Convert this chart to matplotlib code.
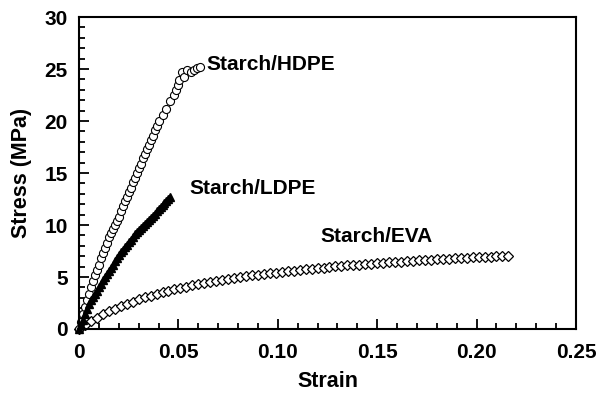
import matplotlib.pyplot as plt
from matplotlib.ticker import MultipleLocator

plt.rcParams['font.family'] = ['Liberation Sans', 'DejaVu Sans']

# Starch/HDPE (open circles)
hdpe_strain = [0, 0.001, 0.002, 0.003, 0.004, 0.005, 0.006, 0.007, 0.008, 0.009,
               0.010, 0.011, 0.012, 0.013, 0.014, 0.015, 0.016, 0.017, 0.018, 0.019,
               0.020, 0.021, 0.022, 0.023, 0.024, 0.025, 0.026, 0.027, 0.028, 0.029,
               0.030, 0.031, 0.032, 0.033, 0.034, 0.035, 0.036, 0.037, 0.038, 0.039,
               0.040, 0.042, 0.044, 0.046, 0.048, 0.049, 0.050, 0.0505, 0.052, 0.053,
               0.0545, 0.0565, 0.058, 0.0595, 0.061]
hdpe_stress = [0, 0.7, 1.4, 2.1, 2.8, 3.4, 4.0, 4.6, 5.2, 5.7,
               6.2, 6.8, 7.3, 7.8, 8.3, 8.8, 9.2, 9.6, 10.0, 10.4,
               10.8, 11.3, 11.8, 12.3, 12.7, 13.2, 13.6, 14.1, 14.55, 15.0,
               15.5, 15.9, 16.4, 16.8, 17.3, 17.7, 18.2, 18.6, 19.1, 19.5,
               20.0, 20.6, 21.2, 21.9, 22.5, 23.0, 23.5, 23.9, 24.7, 24.2,
               24.9, 24.7, 24.9, 25.1, 25.2]

# Starch/LDPE (filled triangles)
ldpe_strain = [0, 0.001, 0.002, 0.003, 0.004, 0.005, 0.006, 0.007, 0.008, 0.009,
               0.010, 0.011, 0.012, 0.013, 0.014, 0.015, 0.016, 0.017, 0.018, 0.019,
               0.020, 0.021, 0.022, 0.023, 0.024, 0.025, 0.026, 0.027, 0.028, 0.029,
               0.030, 0.031, 0.032, 0.033, 0.034, 0.035, 0.036, 0.037, 0.038, 0.039,
               0.040, 0.041, 0.042, 0.043, 0.044, 0.045, 0.046]
ldpe_stress = [0, 0.4, 0.9, 1.4, 1.9, 2.4, 2.8, 3.1, 3.4, 3.7,
               4.0, 4.3, 4.7, 5.0, 5.3, 5.6, 5.9, 6.2, 6.5, 6.8,
               7.1, 7.4, 7.6, 7.9, 8.1, 8.4, 8.6, 8.8, 9.1, 9.3,
               9.5, 9.7, 9.9, 10.1, 10.3, 10.5, 10.7, 10.9, 11.1, 11.3,
               11.5, 11.7, 11.9, 12.1, 12.3, 12.5, 12.7]

# Starch/EVA (open diamonds)
eva_strain = [0, 0.003, 0.006, 0.009, 0.012, 0.015, 0.018, 0.021, 0.024, 0.027,
              0.030, 0.033, 0.036, 0.039, 0.042, 0.045, 0.048, 0.051, 0.054, 0.057,
              0.060, 0.063, 0.066, 0.069, 0.072, 0.075, 0.078, 0.081, 0.084, 0.087,
              0.090, 0.093, 0.096, 0.099, 0.102, 0.105, 0.108, 0.111, 0.114, 0.117,
              0.120, 0.123, 0.126, 0.129, 0.132, 0.135, 0.138, 0.141, 0.144, 0.147,
              0.150, 0.153, 0.156, 0.159, 0.162, 0.165, 0.168, 0.171, 0.174, 0.177,
              0.180, 0.183, 0.186, 0.189, 0.192, 0.195, 0.198, 0.201, 0.204, 0.207,
              0.210, 0.213, 0.216]
eva_stress = [0, 0.40, 0.76, 1.09, 1.40, 1.69, 1.95, 2.20, 2.43, 2.64,
              2.84, 3.03, 3.21, 3.38, 3.53, 3.68, 3.82, 3.96, 4.08, 4.20,
              4.32, 4.43, 4.53, 4.63, 4.73, 4.82, 4.91, 4.99, 5.07, 5.15,
              5.23, 5.30, 5.37, 5.43, 5.50, 5.56, 5.62, 5.68, 5.74, 5.80,
              5.86, 5.91, 5.96, 6.01, 6.06, 6.11, 6.16, 6.20, 6.25, 6.29,
              6.33, 6.37, 6.41, 6.45, 6.49, 6.53, 6.56, 6.60, 6.63, 6.67,
              6.70, 6.73, 6.76, 6.79, 6.82, 6.85, 6.88, 6.91, 6.93, 6.96,
              6.98, 7.00, 7.02]

x_ticks = [0, 0.05, 0.10, 0.15, 0.20, 0.25]
x_labels = ['0', '0.05', '0.10', '0.15', '0.20', '0.25']
y_ticks = [0, 5, 10, 15, 20, 25, 30]

fig = plt.figure(figsize=(5.99, 3.96), dpi=100)
ax = fig.add_axes([0.1319, 0.1692, 0.8297, 0.7878])

ax.plot(eva_strain, eva_stress, linestyle='none', marker='D', markersize=5,
        markerfacecolor='white', markeredgecolor='black', markeredgewidth=0.9,
        clip_on=False)
ax.plot(hdpe_strain, hdpe_stress, linestyle='none', marker='o', markersize=5.8,
        markerfacecolor='white', markeredgecolor='black', markeredgewidth=0.8,
        clip_on=False)
ax.plot(ldpe_strain, ldpe_stress, linestyle='none', marker='^', markersize=6,
        color='black', clip_on=False)

ax.text(0.064, 25.4, 'Starch/HDPE', fontsize=15, fontweight='bold', va='center')
ax.text(0.0555, 13.5, 'Starch/LDPE', fontsize=15, fontweight='bold', va='center')
ax.text(0.1215, 8.9, 'Starch/EVA', fontsize=15, fontweight='bold', va='center')

ax.set_xlim(0, 0.25)
ax.set_ylim(0, 30)
ax.set_xticks(x_ticks)
ax.set_xticklabels(x_labels)
ax.set_yticks(y_ticks)
ax.xaxis.set_minor_locator(MultipleLocator(0.01))
ax.yaxis.set_minor_locator(MultipleLocator(1))
ax.tick_params(which='both', direction='in', width=1.3, top=False, right=False,
               labelsize=15)
ax.tick_params(axis='x', which='major', pad=10)
ax.tick_params(axis='y', which='major', pad=8)
ax.tick_params(which='major', length=7)
ax.tick_params(which='minor', length=4)
for lab in ax.get_xticklabels() + ax.get_yticklabels():
    lab.set_fontweight('bold')
for sp in ax.spines.values():
    sp.set_linewidth(1.5)

ax.set_xlabel('Strain', fontsize=15.5, fontweight='bold')
ax.set_ylabel('Stress (MPa)', fontsize=15.5, fontweight='bold')
ax.xaxis.set_label_coords(0.5, -0.135)
ax.yaxis.set_label_coords(-0.095, 0.5)

fig.savefig('out.png', dpi=100)
